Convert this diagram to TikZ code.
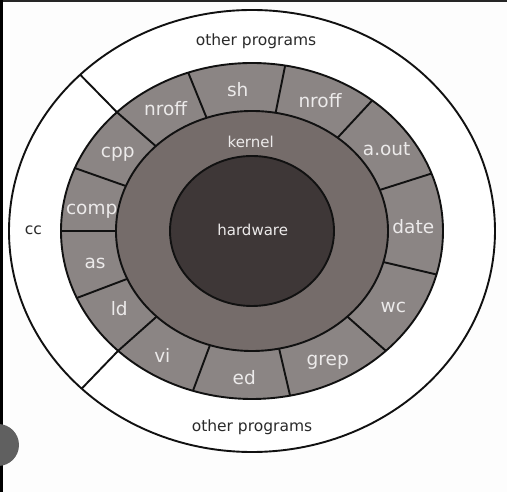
\documentclass[tikz,border=0pt]{standalone}
\usepackage{fontspec}
\setmainfont{DejaVu Sans}
\usepackage{xcolor}
\usetikzlibrary{positioning}
\definecolor{ink}{HTML}{111111}
\definecolor{paper}{HTML}{FDFDFD}
\definecolor{proggray}{HTML}{8B8584}
\definecolor{kerngray}{HTML}{756C6A}
\definecolor{hwgray}{HTML}{3E3737}
\definecolor{lighttext}{HTML}{ECEAEA}
\definecolor{darktext}{HTML}{2A2A2A}
\definecolor{iconGray}{HTML}{606060}
\tikzset{
  ring/.style={draw=ink, line width=1.9pt},
  divider/.style={draw=ink, line width=1.9pt},
  prog/.style={font=\fontsize{18.5}{20}\selectfont, text=lighttext,
               inner sep=0pt, text height=1.25em, text depth=0.2em},
  corelbl/.style={font=\fontsize{15}{17}\selectfont, text=lighttext,
                  inner sep=0pt, text height=1.25em, text depth=0.2em},
  outerlbl/.style={font=\fontsize{15.5}{17}\selectfont, text=darktext,
                   inner sep=0pt, text height=1.25em, text depth=0.2em},
}

\begin{document}
\begin{tikzpicture}[x=1pt, y=1pt]
    \useasboundingbox (-252,-261) rectangle (255,231);
    \fill[paper] (-252,-261) rectangle (255,231);
    % screenshot edges
    \fill[black!85] (-252,229) rectangle (255,231);
    \fill[black] (-252,-261) rectangle (-249,231);
    \fill[iconGray] (-254,-214) circle (21);

    % rings
    \draw[ring, fill=white]    (0,0) ellipse (243 and 221);
    \draw[ring, fill=proggray] (0,0) ellipse (191 and 168);
    \foreach \a in {135,109.5,80,51,20,-15,-45.5,-78.5,-108,-134.5,-156.5,180,158}
      \draw[divider] (\a:136 and 120) -- (\a:191 and 168);
    % cc sector bounds
    \draw[divider] (135:191 and 168) -- (135:243 and 221);
    \draw[divider] (-134.5:191 and 168) -- (-134.5:243 and 221);
    \draw[ring, fill=kerngray] (0,0) ellipse (136 and 120);
    \draw[ring, fill=hwgray]   (0,0) ellipse (82 and 75);

    % labels
    \node[corelbl] (hw)     at (0.7,0.3)     {hardware};
    \node[corelbl] (kernel) at (-1.3,88.3)   {kernel};
    \node[prog] (nroffA) at (-86.3,120.3)  {nroff};
    \node[prog] (sh)     at (-14.3,140)    {sh};
    \node[prog] (nroffB) at (68,128.3)     {nroff};
    \node[prog] (aout)   at (134.7,81)     {a.out};
    \node[prog] (date)   at (161.3,2.7)    {date};
    \node[prog] (wc)     at (141.3,-76.3)  {wc};
    \node[prog] (grep)   at (75.7,-129)    {grep};
    \node[prog] (ed)     at (-7.7,-148)    {ed};
    \node[prog] (vi)     at (-89.7,-126.3) {vi};
    \node[prog] (ld)     at (-132.7,-79.7) {ld};
    \node[prog] (as)     at (-157,-32.3)   {as};
    \node[prog] (comp)   at (-160.3,21.7)  {comp};
    \node[prog] (cpp)    at (-134.3,78.7)  {cpp};
    \node[outerlbl] (othertop) at (4,190.3)     {other programs};
    \node[outerlbl] (otherbot) at (0,-195.7)    {other programs};
    \node[outerlbl] (cc)       at (-218.7,1.7)  {cc};
\end{tikzpicture}
\end{document}
